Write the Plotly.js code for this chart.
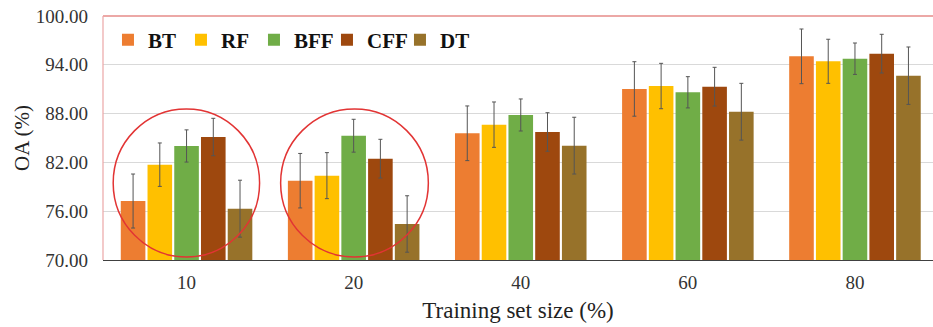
<!DOCTYPE html>
<html>
<head>
<meta charset="utf-8">
<script src="https://cdn.plot.ly/plotly-3.0.1.min.js"></script>
<style>html,body{margin:0;padding:0;background:#fff;}#chart{width:933px;height:327px;}</style>
</head>
<body>
<div id="chart"></div>
<script>
var categories = ["10", "20", "40", "60", "80"];
var seriesNames = ["BT", "RF", "BFF", "CFF", "DT"];
var BT  = [77.25, 79.75, 85.58, 91.03, 95.04];
var RF  = [81.72, 80.37, 86.64, 91.39, 94.43];
var BFF = [84.02, 85.28, 87.83, 90.62, 94.75];
var CFF = [85.12, 82.46, 85.74, 91.31, 95.37];
var DT  = [76.31, 74.43, 84.06, 88.23, 92.66];
var BT_err  = [3.32, 3.35, 3.36, 3.35, 3.36];
var RF_err  = [2.67, 2.83, 2.79, 2.79, 2.71];
var BFF_err = [1.98, 2.02, 1.97, 1.92, 1.93];
var CFF_err = [2.30, 2.38, 2.37, 2.38, 2.38];
var DT_err  = [3.50, 3.47, 3.49, 3.49, 3.53];
var yTicks = [70, 76, 82, 88, 94, 100];

var values = [BT, RF, BFF, CFF, DT];
var errs = [BT_err, RF_err, BFF_err, CFF_err, DT_err];
var colors = ["#ED7D31", "#FFC000", "#70AD47", "#9E480E", "#97722A"];

var traces = seriesNames.map(function (n, i) {
  return {
    type: "bar", name: n, x: categories, y: values[i],
    marker: {color: colors[i]},
    error_y: {type: "data", array: errs[i], visible: true, color: "#555555", thickness: 1, width: 2}
  };
});

var serif = "Liberation Serif";
var layout = {
  width: 933, height: 327,
  margin: {l: 103, r: 0, t: 16, b: 67},
  paper_bgcolor: "#ffffff", plot_bgcolor: "#ffffff",
  barmode: "group", bargap: 0.2, bargroupgap: 0.08,
  showlegend: true,
  legend: {orientation: "h", x: 0.006, y: 0.985, xanchor: "left", yanchor: "top",
           entrywidth: 28, entrywidthmode: "pixels",
           font: {family: serif, size: 21, color: "#111111", weight: "bold"},
           bgcolor: "rgba(0,0,0,0)", traceorder: "normal"},
  font: {family: serif, color: "#333333"},
  xaxis: {
    type: "category", range: [-0.5, 4.467], automargin: false,
    showgrid: false, zeroline: false,
    showline: true, linecolor: "#404040", linewidth: 1,
    ticks: "", tickfont: {family: serif, size: 19, color: "#333333"},
    ticklabelstandoff: 5,
    title: {text: "Training set size (%)", font: {family: serif, size: 23, color: "#222222"}, standoff: 10}
  },
  yaxis: {
    range: [70, 100], tickvals: yTicks, tickformat: ".2f", automargin: false,
    showgrid: true, gridcolor: "#D9D9D9", gridwidth: 1,
    zeroline: false, showline: false, ticks: "",
    tickfont: {family: serif, size: 19, color: "#333333"},
    ticklabelstandoff: 14,
    title: {text: "OA (%)", font: {family: serif, size: 21, color: "#222222"}, standoff: 0}
  },
  shapes: [
    {type: "line", xref: "paper", yref: "paper", x0: 0, x1: 1, y0: 1, y1: 1, line: {color: "#D9534F", width: 1.2}},
    {type: "line", xref: "paper", yref: "paper", x0: 0, x1: 0, y0: 0, y1: 1, line: {color: "#EBA6A6", width: 1.2}},
    {type: "circle", xref: "x", yref: "y", x0: -0.439, x1: 0.437, y0: 70.37, y1: 88.57, line: {color: "#E23434", width: 1.5}},
    {type: "circle", xref: "x", yref: "y", x0: 0.563, x1: 1.447, y0: 70.37, y1: 88.57, line: {color: "#E23434", width: 1.5}}
  ]
};

Plotly.newPlot("chart", traces, layout, {displayModeBar: false, staticPlot: true});
</script>
</body>
</html>
